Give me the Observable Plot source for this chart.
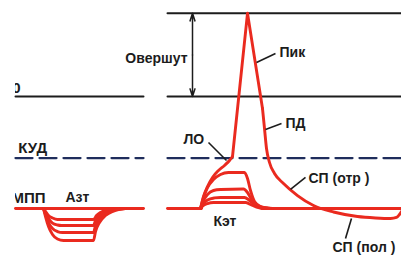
<!DOCTYPE html>
<html><head><meta charset="utf-8">
<script src="https://cdn.jsdelivr.net/npm/d3@7"></script>
<script src="https://cdn.jsdelivr.net/npm/@observablehq/plot@0.6"></script>
<style>body{margin:0;background:#fff}</style>
</head><body><div id="chart"></div>
<script>
// Levels (mV)
const restPotential = -70;        // МПП
const zeroPotential = 0;          // 0
const thresholdPotential = -38.5; // КУД
const peakPotential = 52;         // top of overshoot
// Time windows (ms) of the two panels
const leftWindow = [0, 32];
const rightWindow = [38, 96.5];

// Anelectrotonus (hyperpolarising) traces [t, mV]
const anelectrotonus = [
  [[7,-70],[7.5,-71.9],[8.25,-74.4],[9.25,-75.9],[10.5,-76.9],[19.5,-76.9],[20.25,-74.4],[21.25,-72.5],[22.75,-71.1],[25,-70.2],[27.5,-70]],
  [[7,-70],[7.5,-72.5],[8.25,-76.25],[9.25,-79.1],[10.5,-80.3],[11.5,-80.6],[19.5,-80.6],[20,-77.5],[21,-74.4],[22.5,-71.9],[24.5,-70.5],[27,-70]],
  [[7,-70],[7.5,-73.75],[8.25,-78.75],[9.25,-82.5],[10.5,-84.4],[11.75,-85],[19.5,-85],[20,-80.6],[21,-76.25],[22.5,-73.1],[24.5,-70.9],[27.25,-70]],
  [[7,-70],[7.5,-75],[8.25,-81.25],[9.25,-86.25],[10.5,-89.1],[12,-90],[19.5,-90],[20,-84.4],[21,-78.75],[22.5,-74.4],[24.5,-71.6],[27.5,-70]]
];
// Catelectrotonus (subthreshold depolarising) traces
const catelectrotonus = [
  [[46.25,-70],[47,-68.1],[48,-66.9],[49.5,-66.25],[57.5,-66.25],[58.75,-67.5],[60.25,-69.1],[62.5,-70]],
  [[46.25,-70],[47,-66.9],[48,-64.7],[49.75,-63.4],[51.25,-63.1],[57.25,-63.1],[58.5,-65],[59.75,-67.5],[61.75,-69.4],[64.25,-70]],
  [[46.25,-70],[47,-65],[48,-61.25],[49.5,-58.75],[51.25,-58.1],[57,-57.8],[58,-60],[59,-64.4],[60.5,-68.1],[63.25,-70]],
  [[46.25,-70],[47,-63.1],[48,-56.9],[49.5,-51.9],[51.25,-48.75],[53.25,-47.5],[57.25,-47.5],[58,-51.25],[58.75,-58.75],[59.75,-65.6],[61.25,-68.75],[63.75,-70]]
];
// Action potential: local response (ЛО), spike, after-potentials
const apLocalResponse = [[46.25,-70],[47,-62.5],[48,-56.25],[49.25,-50.6],[50.75,-46.25],[52.25,-43.1],[53.5,-40],[54.25,-37.5]];
const apSpike = [[54.25,-37.5],[58,52],[61.75,-7.5]];
const apDecay = [[61.75,-7.5],[62.25,-20],[62.75,-32.5],[63.5,-41.25],[64.75,-48.1],[67,-54.4],[70.5,-61.9],[74.5,-68.1],[79.5,-72.2],[85.5,-75],[90,-75.9],[93.75,-76.25],[95.25,-75.6],[96,-73.75],[96.5,-71.9]];

// Labels [text, t, mV]
const labelsRightAligned = [
  ["Овершут", 43, 23.75]
];
const labelsLeftAligned = [
  ["Пик", 66, 27.2],
  ["ПД", 67.5, -16.9],
  ["ЛО", 42, -26.9],
  ["СП (отр )", 73.25, -51.25],
  ["СП (пол )", 79.25, -94.4],
  ["Кэт", 49.5, -78.1],
  ["Азт", 12.5, -63.1]
];
const edgeLabels = [
  ["0", 1.25, 5],
  ["КУД", 7.9, -32.5],
  ["МПП", 7.5, -63.75]
];
// Leader lines [t1, mV1, t2, mV2]
const leaders = [
  [60.25, 21.25, 65, 26.9],
  [62.5, -20.6, 66.5, -16.9],
  [48.25, -28.75, 52.75, -40],
  [68.75, -58.1, 72.5, -50.6],
  [84, -76.25, 82.5, -88.75]
];
const overshootT = 44.25;

const RED = "#ea2a1f", INK = "#1c1c1c", NAVY = "#1f2d5c";
const FONT = "Liberation Sans, Arial, sans-serif";
const flat = (arr) => arr.flatMap((tr, i) => tr.map(([t, v]) => ({t, v, k: i})));
const seg = (t0, t1, v) => [{t: t0, v}, {t: t1, v}];

const redStyle = {x: "t", y: "v", stroke: RED, strokeWidth: 2.9, strokeLinejoin: "round", strokeLinecap: "round"};
const textStyle = {x: d => d[1], y: d => d[2], text: d => d[0], fontSize: 14, fontWeight: "bold", fill: INK, fontFamily: FONT};

const chart = Plot.plot({
  width: 401, height: 255,
  marginLeft: 15, marginRight: 0, marginTop: 0, marginBottom: 0,
  x: {domain: [0, 96.5], range: [15, 401], axis: null},
  y: {domain: [-99.375, 60], range: [255, 0], axis: null},
  style: {background: "#fff"},
  marks: [
    // reference lines
    Plot.line(seg(rightWindow[0], rightWindow[1], peakPotential), {x: "t", y: "v", stroke: INK, strokeWidth: 2}),
    Plot.line(seg(leftWindow[0], leftWindow[1], zeroPotential), {x: "t", y: "v", stroke: INK, strokeWidth: 2}),
    Plot.line(seg(rightWindow[0], rightWindow[1], zeroPotential), {x: "t", y: "v", stroke: INK, strokeWidth: 2}),
    Plot.line(seg(leftWindow[0], leftWindow[1], thresholdPotential), {x: "t", y: "v", stroke: NAVY, strokeWidth: 2.3, strokeDasharray: "17,7"}),
    Plot.line(seg(rightWindow[0], rightWindow[1], thresholdPotential), {x: "t", y: "v", stroke: NAVY, strokeWidth: 2.3, strokeDasharray: "17,7"}),
    // overshoot arrows
    Plot.arrow([{a: 26, b: peakPotential}, {a: 26, b: zeroPotential}], {x1: () => overshootT, x2: () => overshootT, y1: "a", y2: "b", stroke: INK, strokeWidth: 1.5, headLength: 8, headAngle: 36}),
    // baselines
    Plot.line(seg(leftWindow[0], leftWindow[1], restPotential), redStyle),
    Plot.line(seg(rightWindow[0], 46.5, restPotential), redStyle),
    Plot.line(seg(61.5, rightWindow[1], restPotential), redStyle),
    // traces
    Plot.line(flat(anelectrotonus), {...redStyle, z: "k", curve: "monotone-x"}),
    Plot.line(flat(catelectrotonus), {...redStyle, z: "k", curve: "monotone-x"}),
    Plot.line(flat([apLocalResponse]), {...redStyle, curve: "monotone-x"}),
    Plot.line(flat([apSpike]), {...redStyle, curve: "linear"}),
    Plot.line(flat([apDecay]), {...redStyle, curve: "monotone-x"}),
    // leaders
    Plot.link(leaders, {x1: d => d[0], y1: d => d[1], x2: d => d[2], y2: d => d[3], stroke: INK, strokeWidth: 1.6}),
    // labels
    Plot.text(labelsRightAligned, {...textStyle, textAnchor: "end"}),
    Plot.text(labelsLeftAligned, {...textStyle, textAnchor: "start"}),
    Plot.text(edgeLabels, {...textStyle, fontSize: 15, textAnchor: "end", clip: true})
  ]
});
document.getElementById("chart").appendChild(chart);
</script>
</body></html>
